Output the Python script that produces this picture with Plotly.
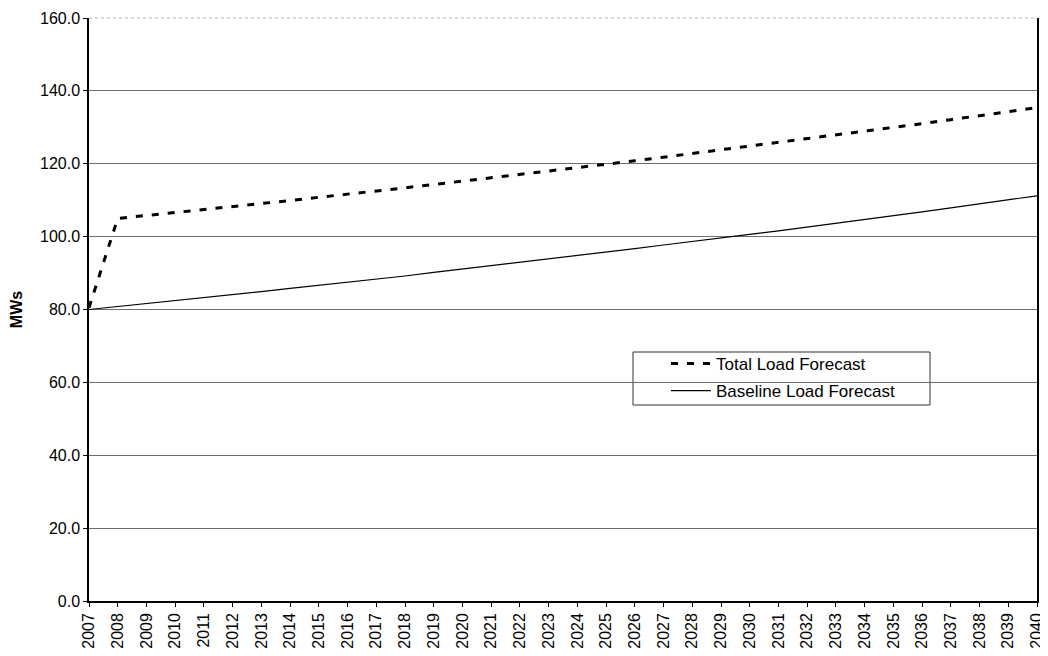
import plotly.graph_objects as go

years = list(range(2007, 2041))
total_load = [80.5, 105.0, 105.8, 106.6, 107.4, 108.2, 109.0, 109.9, 110.8, 111.6,
              112.5, 113.4, 114.3, 115.2, 116.1, 117.0, 118.0, 118.9, 119.9, 120.8,
              121.8, 122.8, 123.8, 124.8, 125.8, 126.8, 127.8, 128.9, 129.9, 131.0,
              132.1, 133.2, 134.3, 135.4]
baseline_load = [80.0, 80.8, 81.6, 82.4, 83.2, 84.1, 84.9, 85.8, 86.6, 87.5,
                 88.4, 89.2, 90.2, 91.1, 92.0, 92.9, 93.8, 94.8, 95.7, 96.7,
                 97.7, 98.6, 99.6, 100.6, 101.6, 102.6, 103.7, 104.7, 105.8, 106.8,
                 107.9, 109.0, 110.1, 111.2]
y_ticks = [0, 20, 40, 60, 80, 100, 120, 140, 160]

FAM = "Liberation Sans, Arial, sans-serif"

fig = go.Figure()
fig.add_trace(go.Scatter(x=years, y=total_load, mode="lines", name="Total Load Forecast",
                         legendgroup="a",
                         line=dict(color="black", width=3, dash="7px,9px")))
fig.add_trace(go.Scatter(x=years, y=baseline_load, mode="lines", name="Baseline Load Forecast",
                         legendgroup="b",
                         line=dict(color="black", width=1.2)))

font = dict(family=FAM, size=16, color="black")
# page has an 8px body margin: figure is drawn offset by 8px
OFF = 8
W, H = 1048 - OFF, 656 - OFF
# plot area in page pixels: left 89, right 1037, top 18, bottom 601
L = 89 - OFF
T = 18 - OFF
R = W - (1037 - OFF)
B = H - (601 - OFF)
pw, ph = W - L - R, H - T - B

def px_x(p):  # page pixel -> paper
    return (p - OFF - L) / pw

def px_y(p):
    return (H - B - (p - OFF)) / ph

fig.update_layout(
    width=W, height=H,
    margin=dict(l=L, r=R, t=T, b=B, autoexpand=False),
    paper_bgcolor="white", plot_bgcolor="white",
    font=font,
    showlegend=True,
    legend=dict(x=px_x(666), y=px_y(346), xanchor="left", yanchor="top",
                borderwidth=0, bgcolor="rgba(0,0,0,0)",
                font=dict(family=FAM, size=17, color="black"),
                tracegroupgap=2, itemwidth=40),
    shapes=[
        # faint dotted top border at 160
        dict(type="line", xref="paper", yref="paper", x0=0, x1=1, y0=1, y1=1,
             line=dict(color="white", width=2), layer="above"),
        dict(type="line", xref="paper", yref="paper", x0=0, x1=1, y0=1, y1=1,
             line=dict(color="#b5b5b5", width=1, dash="dot"), layer="above"),
        # legend box
        dict(type="rect", xref="paper", yref="paper",
             x0=px_x(633), x1=px_x(930), y0=px_y(405), y1=px_y(352),
             line=dict(color="#333333", width=1), fillcolor="white", layer="below"),
    ],
)
fig.update_xaxes(
    range=[2007, 2040], tickmode="array", tickvals=years,
    ticktext=[str(y) for y in years], tickangle=-90,
    showgrid=False, showline=True, linecolor="black", linewidth=1.5,
    ticks="outside", ticklen=4, tickcolor="black", zeroline=False,
    tickfont=font, automargin=False, ticklabeloverflow="allow",
)
fig.update_yaxes(
    range=[0, 160], tickmode="array", tickvals=y_ticks,
    ticktext=[f"{v:.1f}" for v in y_ticks],
    showgrid=True, gridcolor="#6e6e6e", gridwidth=1,
    showline=True, linecolor="black", linewidth=1.5, mirror=True,
    ticks="outside", ticklen=4, tickcolor="black", zeroline=False,
    tickfont=font, automargin=False, ticklabeloverflow="allow",
    title=dict(text="<b>MWs</b>", font=dict(family=FAM, size=16), standoff=15),
)

fig.write_html("out.html")
